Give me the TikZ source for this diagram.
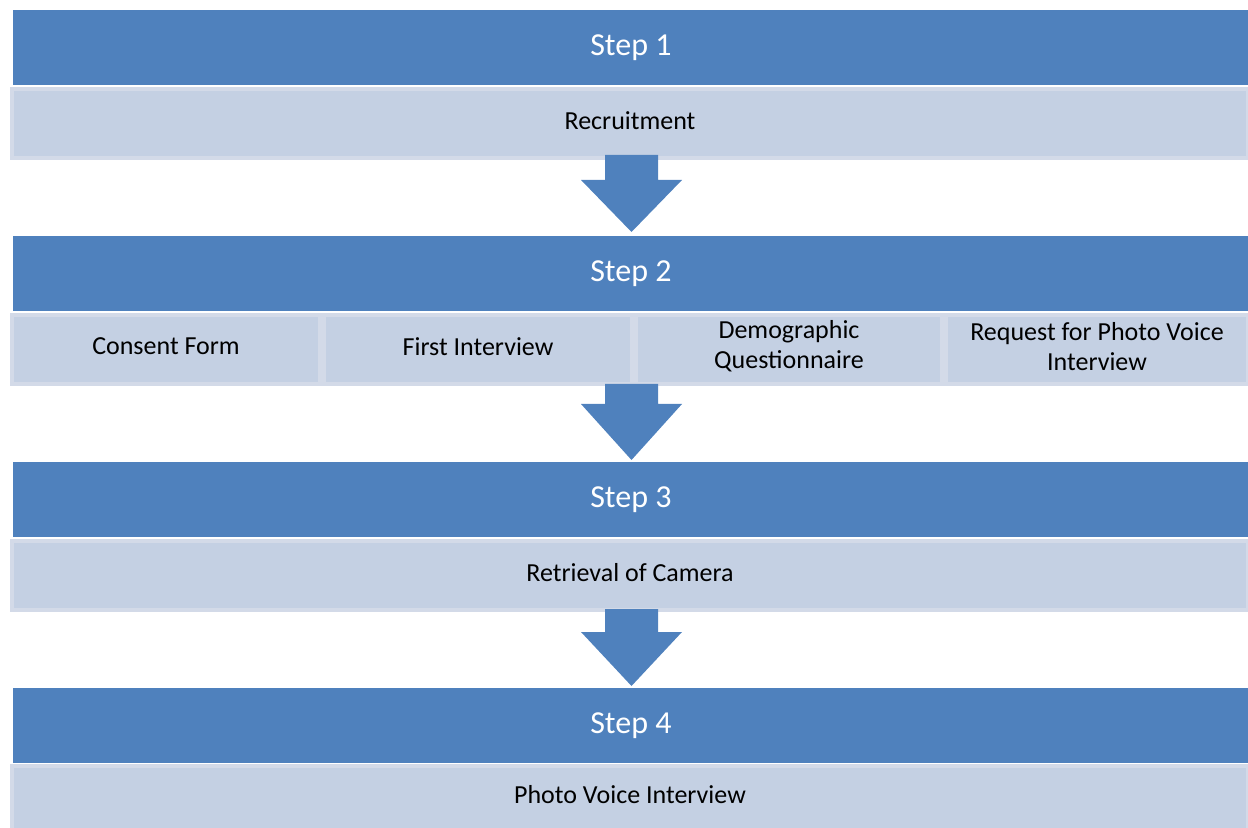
\documentclass[tikz,border=0pt]{standalone}
\usepackage{fontspec}
\setmainfont{Carlito}
\usetikzlibrary{calc}
\definecolor{hdrblue}{HTML}{4F81BD}
\definecolor{boxfill}{HTML}{C4D0E3}
\definecolor{boxedge}{HTML}{D3DAE8}
\tikzset{
  hdr/.style={rectangle, fill=hdrblue, text=white, anchor=north west,
    minimum width=617.5pt, minimum height=37.5pt, inner sep=0pt,
    font=\fontsize{16}{19}\selectfont},
  lbox/.style={rectangle, fill=boxfill, draw=boxedge, line width=2pt, anchor=north west,
    minimum height=34.5pt, inner sep=0pt},
  ltext/.style={text=black, align=center, yshift=1.6pt,
    font=\fontsize{13}{15}\selectfont},
  flow/.style={fill=hdrblue, draw=none},
}
\begin{document}
\begin{tikzpicture}[x=0.5pt,y=-0.5pt]
\useasboundingbox (0,0) rectangle (1248,828);
% Step 1
\node[hdr] (h1) at (13,10) {Step 1};
\node[lbox, minimum width=618pt, label={[ltext]center:Recruitment}] (b1) at (10,87) {};
% Step 2
\node[hdr] (h2) at (13,236) {Step 2};
\node[lbox, minimum width=154pt, label={[ltext]center:Consent Form}] (b2a) at (10,313) {};
\node[lbox, minimum width=154pt, label={[ltext]center:First Interview}] (b2b) at (322,313) {};
\node[lbox, minimum width=153pt, label={[ltext]center:Demographic\\Questionnaire}] (b2c) at (634,313) {};
\node[lbox, minimum width=151pt, label={[ltext]center:Request for Photo Voice\\Interview}] (b2d) at (944,313) {};
% Step 3
\node[hdr] (h3) at (13,462) {Step 3};
\node[lbox, minimum width=618pt, label={[ltext]center:Retrieval of Camera}] (b3) at (10,539) {};
% Step 4
\node[hdr] (h4) at (13,688) {Step 4};
\node[lbox, minimum width=618pt, minimum height=32pt, label={[ltext]center:Photo Voice Interview}] (b4) at (10,764) {};
% Arrows
\coordinate (a1top) at (631.5,155);
\coordinate (a1tip) at (631.5,232);
\fill[flow] ($(a1top)+(-26.5,0)$) -- ($(a1top)+(26.5,0)$) -- ($(a1top)+(26.5,25)$) -- ($(a1top)+(50.5,25)$)
  -- (a1tip) -- ($(a1top)+(-50.5,25)$) -- ($(a1top)+(-26.5,25)$) -- cycle;
\coordinate (a2top) at (631.5,384);
\coordinate (a2tip) at (631.5,460);
\fill[flow] ($(a2top)+(-26.5,0)$) -- ($(a2top)+(26.5,0)$) -- ($(a2top)+(26.5,20)$) -- ($(a2top)+(50.5,20)$)
  -- (a2tip) -- ($(a2top)+(-50.5,20)$) -- ($(a2top)+(-26.5,20)$) -- cycle;
\coordinate (a3top) at (631.5,609);
\coordinate (a3tip) at (631.5,686);
\fill[flow] ($(a3top)+(-26.5,0)$) -- ($(a3top)+(26.5,0)$) -- ($(a3top)+(26.5,23)$) -- ($(a3top)+(50.5,23)$)
  -- (a3tip) -- ($(a3top)+(-50.5,23)$) -- ($(a3top)+(-26.5,23)$) -- cycle;
\end{tikzpicture}
\end{document}
